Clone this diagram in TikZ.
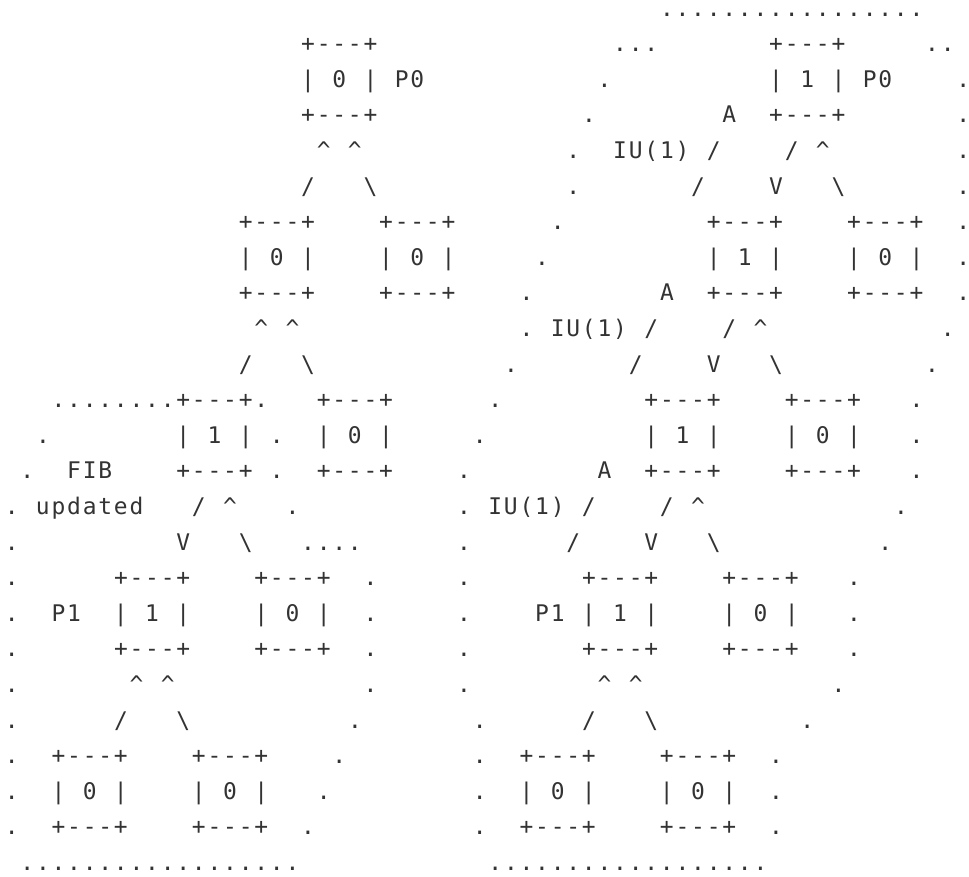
\documentclass[tikz,border=0pt]{standalone}
\usepackage{fontspec}
\newfontfamily\asciifont{DejaVu Sans Mono}
\definecolor{txtcol}{HTML}{333333}
\newlength\cw
\setlength\cw{7.8pt}
\makeatletter
\def\asc#1{\asc@loop#1\relax}
\def\asc@loop#1{\ifx#1\relax\else\asc@cell{#1}\expandafter\asc@loop\fi}
\def\asc@cell#1{\ifx#1_\hspace*{\cw}\else\makebox[\cw][c]{#1}\fi}
\makeatother
\newcommand\ascgap[1]{\hspace*{#1\cw}}
\newcommand\crt{\textasciicircum}
\newcommand\bsl{\textbackslash}
\newcommand\ascline[3]{\node[ln] (#1) at (3.9,{16.1+35.6*(#2-1)}) {#3};}
\begin{document}
\begin{tikzpicture}[x=0.5pt,y=-0.5pt,
  ln/.style={anchor=base west,inner sep=0pt,outer sep=0pt,text=txtcol,
    font=\asciifont\fontsize{11.45pt}{14pt}\selectfont}]
\useasboundingbox (0,0) rectangle (969,877);
\ascline{l1}{1}{\ascgap{42}\asc{.................}}
\ascline{l2}{2}{\ascgap{19}\asc{+---+}\ascgap{15}\asc{...}\ascgap{7}\asc{+---+}\ascgap{5}\asc{..}}
\ascline{l3}{3}{\ascgap{19}\asc{|_0_|_P0}\ascgap{11}\asc{.}\ascgap{10}\asc{|_1_|_P0}\ascgap{4}\asc{.}}
\ascline{l4}{4}{\ascgap{19}\asc{+---+}\ascgap{13}\asc{.}\ascgap{8}\asc{A}\ascgap{2}\asc{+---+}\ascgap{7}\asc{.}}
\ascline{l5}{5}{\ascgap{20}\asc{\crt_\crt}\ascgap{13}\asc{.}\ascgap{2}\asc{IU(1)_/}\ascgap{4}\asc{/_\crt}\ascgap{8}\asc{.}}
\ascline{l6}{6}{\ascgap{19}\asc{/___\bsl}\ascgap{12}\asc{.}\ascgap{7}\asc{/}\ascgap{4}\asc{V}\ascgap{3}\asc{\bsl}\ascgap{7}\asc{.}}
\ascline{l7}{7}{\ascgap{15}\asc{+---+____+---+}\ascgap{6}\asc{.}\ascgap{9}\asc{+---+____+---+}\ascgap{2}\asc{.}}
\ascline{l8}{8}{\ascgap{15}\asc{|_0_|____|_0_|}\ascgap{5}\asc{.}\ascgap{10}\asc{|_1_|____|_0_|}\ascgap{2}\asc{.}}
\ascline{l9}{9}{\ascgap{15}\asc{+---+____+---+}\ascgap{4}\asc{.}\ascgap{8}\asc{A__+---+____+---+}\ascgap{2}\asc{.}}
\ascline{l10}{10}{\ascgap{16}\asc{\crt_\crt}\ascgap{14}\asc{._IU(1)_/}\ascgap{4}\asc{/_\crt}\ascgap{11}\asc{.}}
\ascline{l11}{11}{\ascgap{15}\asc{/___\bsl}\ascgap{12}\asc{.}\ascgap{7}\asc{/}\ascgap{4}\asc{V}\ascgap{3}\asc{\bsl}\ascgap{9}\asc{.}}
\ascline{l12}{12}{\ascgap{3}\asc{........+---+.}\ascgap{3}\asc{+---+}\ascgap{6}\asc{.}\ascgap{9}\asc{+---+____+---+}\ascgap{3}\asc{.}}
\ascline{l13}{13}{\ascgap{2}\asc{.}\ascgap{8}\asc{|_1_|_.__|_0_|}\ascgap{5}\asc{.}\ascgap{10}\asc{|_1_|____|_0_|}\ascgap{3}\asc{.}}
\ascline{l14}{14}{\ascgap{1}\asc{.__FIB}\ascgap{4}\asc{+---+_.__+---+}\ascgap{4}\asc{.}\ascgap{8}\asc{A__+---+____+---+}\ascgap{3}\asc{.}}
\ascline{l15}{15}{\asc{._updated}\ascgap{3}\asc{/_\crt}\ascgap{3}\asc{.}\ascgap{10}\asc{._IU(1)_/}\ascgap{4}\asc{/_\crt}\ascgap{12}\asc{.}}
\ascline{l16}{16}{\asc{.}\ascgap{10}\asc{V___\bsl}\ascgap{3}\asc{....}\ascgap{6}\asc{.}\ascgap{6}\asc{/}\ascgap{4}\asc{V}\ascgap{3}\asc{\bsl}\ascgap{10}\asc{.}}
\ascline{l17}{17}{\asc{.}\ascgap{6}\asc{+---+____+---+}\ascgap{2}\asc{.}\ascgap{5}\asc{.}\ascgap{7}\asc{+---+____+---+}\ascgap{3}\asc{.}}
\ascline{l18}{18}{\asc{.__P1__|_1_|____|_0_|}\ascgap{2}\asc{.}\ascgap{5}\asc{.}\ascgap{4}\asc{P1_|_1_|____|_0_|}\ascgap{3}\asc{.}}
\ascline{l19}{19}{\asc{.}\ascgap{6}\asc{+---+____+---+}\ascgap{2}\asc{.}\ascgap{5}\asc{.}\ascgap{7}\asc{+---+____+---+}\ascgap{3}\asc{.}}
\ascline{l20}{20}{\asc{.}\ascgap{7}\asc{\crt_\crt}\ascgap{12}\asc{.}\ascgap{5}\asc{.}\ascgap{8}\asc{\crt_\crt}\ascgap{12}\asc{.}}
\ascline{l21}{21}{\asc{.}\ascgap{6}\asc{/___\bsl}\ascgap{10}\asc{.}\ascgap{7}\asc{.}\ascgap{6}\asc{/___\bsl}\ascgap{9}\asc{.}}
\ascline{l22}{22}{\asc{.__+---+____+---+}\ascgap{4}\asc{.}\ascgap{8}\asc{.__+---+____+---+}\ascgap{2}\asc{.}}
\ascline{l23}{23}{\asc{.__|_0_|____|_0_|}\ascgap{3}\asc{.}\ascgap{9}\asc{.__|_0_|____|_0_|}\ascgap{2}\asc{.}}
\ascline{l24}{24}{\asc{.__+---+____+---+}\ascgap{2}\asc{.}\ascgap{10}\asc{.__+---+____+---+}\ascgap{2}\asc{.}}
\ascline{l25}{25}{\ascgap{1}\asc{..................}\ascgap{12}\asc{..................}}
\end{tikzpicture}
\end{document}
